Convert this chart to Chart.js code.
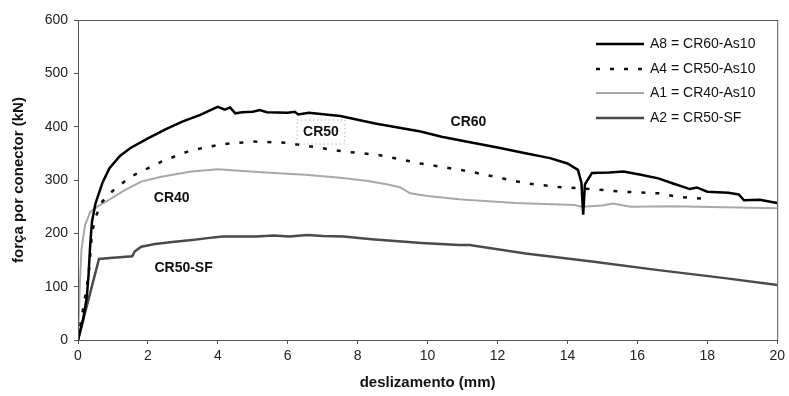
<!DOCTYPE html>
<html>
<head>
<meta charset="utf-8">
<script src="https://cdn.jsdelivr.net/npm/chart.js@4"></script>
<style>
  html, body { margin: 0; padding: 0; background: #fff; }
  #wrap { width: 789px; height: 396px; }
</style>
</head>
<body>
<div id="wrap"><canvas id="chart" width="789" height="396"></canvas></div>
<script>
// ─── Data ──────────────────────────────────────────────────────

const a8X = [0, 0.15, 0.25, 0.3, 0.35, 0.4, 0.5, 0.7, 0.9, 1.2, 1.5, 2.0, 2.5, 3.0, 3.5, 3.85, 4.0, 4.2, 4.35, 4.5, 4.7, 5.0, 5.2, 5.4, 6.0, 6.2, 6.3, 6.6, 7.5, 8.5, 9.8, 10.4, 11.1, 12.0, 12.8, 13.5, 14.0, 14.3, 14.4, 14.45, 14.5, 14.7, 15.2, 15.6, 16.1, 16.6, 17.0, 17.5, 17.7, 18.0, 18.6, 18.9, 19.05, 19.5, 20.0];
const a8Y = [0, 40, 80, 120, 180, 222, 256, 295, 322, 345, 360, 378, 395, 410, 422, 433, 437, 432, 436, 425, 427, 428, 431, 427, 426, 428, 423, 426, 420, 406, 391, 381, 372, 361, 350, 341, 331, 319, 295, 235, 292, 313, 314, 316, 310, 303, 294, 283, 286, 278, 276, 273, 262, 263, 257];

const a4X = [0, 0.3, 0.4, 0.5, 0.7, 1.0, 1.5, 2.0, 2.4, 3.2, 4.1, 5.0, 5.9, 6.75, 7.65, 8.6, 9.8, 11.2, 12.8, 13.7, 14.7, 15.6, 16.6, 17.2, 18.1];
const a4Y = [0, 120, 200, 230, 260, 280, 306, 322, 335, 355, 367, 372, 370, 362, 353, 347, 331, 316, 294, 287, 283, 278, 275, 268, 264];

const a1X = [0, 0.05, 0.1, 0.2, 0.35, 0.6, 0.86, 1.34, 1.81, 2.38, 3.24, 4.0, 4.5, 5.6, 6.5, 7.5, 8.3, 8.9, 9.22, 9.5, 10.0, 10.9, 11.3, 12.5, 14.2, 14.4, 15.0, 15.3, 15.8, 17.0, 18.5, 20.0];
const a1Y = [0, 100, 170, 215, 240, 252, 262, 281, 297, 306, 316, 320, 318, 313, 310, 304, 298, 291, 286, 275, 270, 264, 262, 257, 253, 250, 252, 256, 250, 251, 249, 247];

const a2X = [0, 0.6, 1.0, 1.55, 1.62, 1.81, 2.2, 2.76, 3.2, 3.71, 4.13, 4.66, 5.09, 5.6, 6.04, 6.56, 7.0, 7.6, 8.4, 9.83, 10.9, 11.2, 12.8, 14.7, 16.6, 18.5, 19.9, 20.0];
const a2Y = [0, 152, 154, 157, 166, 175, 180, 184, 187, 191, 194, 194, 194, 196, 194, 197, 195, 194, 189, 182, 178, 178, 162, 147, 131, 116, 104, 103];

const seriesLabels = ["A8 = CR60-As10", "A4 = CR50-As10", "A1 = CR40-As10", "A2 = CR50-SF"];

const xTicks = [0, 2, 4, 6, 8, 10, 12, 14, 16, 18, 20];
const yTicks = [0, 100, 200, 300, 400, 500, 600];

// curve labels written inside the plot
const noteText = ["CR60", "CR50", "CR40", "CR50-SF"];
const noteX = [11.17, 6.95, 2.68, 3.02];
const noteY = [409, 390, 266, 135];

const FONT = "'Liberation Sans', Arial, sans-serif";

function pts(xs, ys) {
  return xs.map((x, i) => ({ x: x, y: ys[i] }));
}

// ─── Plugins ───────────────────────────────────────────────

const frame = {
  id: "frame",
  beforeDraw(chart) {
    const { ctx } = chart;
    ctx.save();
    ctx.fillStyle = "#fff";
    ctx.fillRect(0, 0, chart.width, chart.height);
    ctx.restore();
  },
  afterDraw(chart) {
    const { ctx, chartArea: a, scales } = chart;
    ctx.save();
    ctx.strokeStyle = "#555";
    ctx.lineWidth = 1;
    ctx.strokeRect(a.left + 0.5, a.top + 0.5, a.right - a.left, a.bottom - a.top);

    // curve notes
    ctx.font = "bold 14px " + FONT;
    ctx.fillStyle = "#111";
    ctx.textAlign = "center";
    ctx.textBaseline = "middle";
    noteText.forEach((t, i) => {
      const px = scales.x.getPixelForValue(noteX[i]);
      const py = scales.y.getPixelForValue(noteY[i]);
      ctx.fillText(t, px, py);
      if (t === "CR50") {
        const w = ctx.measureText(t).width;
        ctx.save();
        ctx.setLineDash([1, 3]);
        ctx.strokeStyle = "#999";
        ctx.strokeRect(px - w / 2 - 6, py - 12, w + 12, 24);
        ctx.restore();
      }
    });

    // legend inside the plot, top right
    const ds = chart.data.datasets;
    ctx.font = "14px " + FONT;
    ctx.textAlign = "left";
    const rows = [44, 69, 93, 118];
    ds.forEach((d, i) => {
      ctx.save();
      ctx.strokeStyle = d.borderColor;
      ctx.lineWidth = d.borderWidth;
      ctx.setLineDash(d.borderDash || []);
      ctx.beginPath();
      ctx.moveTo(596, rows[i]);
      ctx.lineTo(644, rows[i]);
      ctx.stroke();
      ctx.restore();
      ctx.fillStyle = "#111";
      ctx.fillText(seriesLabels[i], 650, rows[i]);
    });
    ctx.restore();
  },
};

// ─── Chart ─────────────────────────────────────────────────

const chart = new Chart(document.getElementById("chart").getContext("2d"), {
  type: "line",
  data: {
    datasets: [
      { label: seriesLabels[0], data: pts(a8X, a8Y), borderColor: "#000", borderWidth: 2.5 },
      { label: seriesLabels[1], data: pts(a4X, a4Y), borderColor: "#111", borderWidth: 2.5, borderDash: [4, 10] },
      { label: seriesLabels[2], data: pts(a1X, a1Y), borderColor: "#a8a8a8", borderWidth: 2 },
      { label: seriesLabels[3], data: pts(a2X, a2Y), borderColor: "#4a4a4a", borderWidth: 2.5 },
    ],
  },
  options: {
    responsive: false,
    animation: false,
    elements: { point: { radius: 0 }, line: { tension: 0, fill: false } },
    layout: { padding: { top: 20, right: 9, left: 0, bottom: 0 } },
    plugins: { legend: { display: false }, tooltip: { enabled: false } },
    scales: {
      x: {
        type: "linear",
        min: 0,
        max: 20,
        afterFit: (s) => { s.height = 56; },
        afterBuildTicks: (s) => { s.ticks = xTicks.map((v) => ({ value: v })); },
        grid: { drawOnChartArea: false, drawTicks: true, tickLength: 4, color: "#555" },
        border: { color: "#555" },
        ticks: { color: "#222", font: { family: FONT, size: 14 }, padding: 4, maxRotation: 0 },
        title: { display: true, text: "deslizamento (mm)", color: "#111", font: { family: FONT, size: 15, weight: "bold" }, padding: { top: 10 } },
      },
      y: {
        min: 0,
        max: 600,
        afterFit: (s) => { s.width = 78; },
        afterBuildTicks: (s) => { s.ticks = yTicks.map((v) => ({ value: v })); },
        grid: { drawOnChartArea: false, drawTicks: true, tickLength: 4, color: "#555" },
        border: { color: "#555" },
        ticks: { color: "#222", font: { family: FONT, size: 14 }, padding: 6 },
        title: { display: true, text: "força por conector (kN)", color: "#111", font: { family: FONT, size: 15, weight: "bold" }, padding: { top: 10, bottom: 0 } },
      },
    },
  },
  plugins: [frame],
});
</script>
</body>
</html>
